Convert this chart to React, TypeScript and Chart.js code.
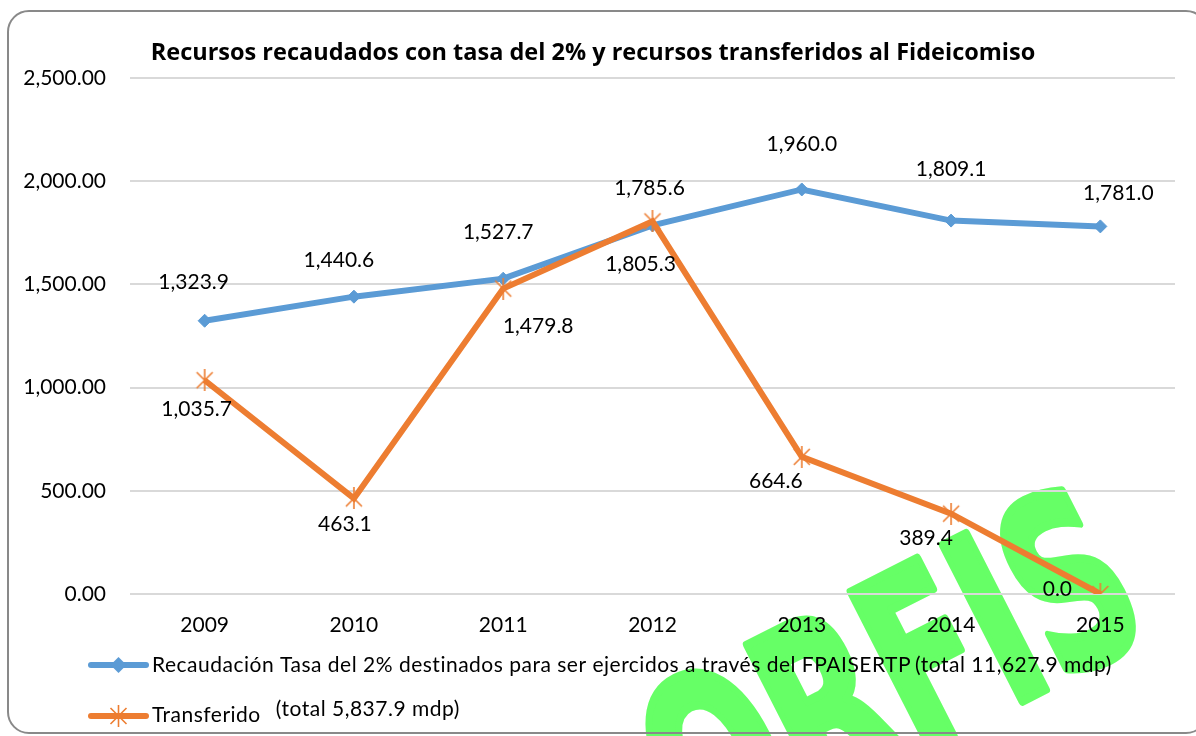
import { useEffect, useRef } from 'react';
import { Chart, registerables } from 'chart.js';

Chart.register(...registerables);

// ---- data ----
const years = ['2009', '2010', '2011', '2012', '2013', '2014', '2015'];
const recaudacion = [1323.9, 1440.6, 1527.7, 1785.6, 1960.0, 1809.1, 1781.0];
const transferido = [1035.7, 463.1, 1479.8, 1805.3, 664.6, 389.4, 0.0];
const yTickValues = [0, 500, 1000, 1500, 2000, 2500];
const seriesNames = [
  'Recaudación Tasa del 2% destinados para ser ejercidos a través del FPAISERTP',
  'Transferido',
];
const seriesTotals = ['(total 11,627.9 mdp)', '(total 5,837.9 mdp)'];
const titleText = 'Recursos recaudados con tasa del 2% y recursos transferidos al Fideicomiso';
const watermarkText = 'ORFIS';

// label offsets (pixels from each point) as placed in the original
const blueLabelOffsets = [[-11, -39], [-15, -36], [-5, -46], [-3, -37], [0, -45], [0, -51], [18, -33]];
const orangeLabelOffsets = [[-8, 29], [-9, 26], [35, 38], [-12, 43], [-26, 24], [-25, 25], [-43, -5]];

const BLUE = '#5b9bd5';
const ORANGE = '#ed7d31';
const FONT = 'Lato';
const TEXT = '#000000';

function makeStar(color: string) {
  const c = document.createElement('canvas');
  c.width = 22;
  c.height = 22;
  const g = c.getContext('2d')!;
  g.strokeStyle = color;
  g.lineWidth = 1.6;
  g.beginPath();
  g.moveTo(3, 3); g.lineTo(19, 19);
  g.moveTo(19, 3); g.lineTo(3, 19);
  g.moveTo(11, 0); g.lineTo(11, 22);
  g.stroke();
  return c;
}

const fmt1 = (v: number) => v.toLocaleString('en-US', { minimumFractionDigits: 1, maximumFractionDigits: 1 });
const fmt2 = (v: number) => v.toLocaleString('en-US', { minimumFractionDigits: 2, maximumFractionDigits: 2 });

const customPlugin = {
  id: 'customDraw',
  beforeDraw(chart: any) {
    const ctx = chart.ctx as CanvasRenderingContext2D;
    ctx.save();
    ctx.translate(888, 672);
    ctx.rotate((-27 * Math.PI) / 180);
    ctx.scale(0.63, 1);
    ctx.font = `bold 240px "DejaVu Sans"`;
    ctx.fillStyle = '#66ff66';
    ctx.strokeStyle = '#66ff66';
    ctx.lineWidth = 9;
    ctx.lineJoin = 'round';
    ctx.textAlign = 'center';
    ctx.textBaseline = 'alphabetic';
    ctx.fillText(watermarkText, 0, 87);
    ctx.strokeText(watermarkText, 0, 87);
    ctx.restore();
  },
  afterDatasetsDraw(chart: any) {
    const ctx = chart.ctx as CanvasRenderingContext2D;
    ctx.save();
    ctx.font = `21px ${FONT}`;
    ctx.fillStyle = TEXT;
    ctx.textAlign = 'center';
    ctx.textBaseline = 'middle';
    const sets = [
      { idx: 0, vals: recaudacion, offs: blueLabelOffsets },
      { idx: 1, vals: transferido, offs: orangeLabelOffsets },
    ];
    sets.forEach((s) => {
      const meta = chart.getDatasetMeta(s.idx);
      meta.data.forEach((el: any, j: number) => {
        const [dx, dy] = s.offs[j];
        ctx.fillText(fmt1(s.vals[j]), el.x + dx, el.y + dy);
      });
    });
    ctx.restore();
  },
  afterDraw(chart: any) {
    const ctx = chart.ctx as CanvasRenderingContext2D;
    ctx.save();
    // title
    ctx.font = `bold 23.5px "Open Sans"`;
    ctx.fillStyle = TEXT;
    ctx.textAlign = 'center';
    ctx.textBaseline = 'alphabetic';
    ctx.fillText(titleText, 593, 60);

    // legend
    const rows = [
      { y: 665, base: 672, color: BLUE, kind: 'diamond', gap: 4, totalBase: 672 },
      { y: 716, base: 722, color: ORANGE, kind: 'star', gap: 15, totalBase: 716 },
    ];
    rows.forEach((r, i) => {
      ctx.strokeStyle = r.color;
      ctx.lineWidth = 6;
      ctx.lineCap = 'round';
      ctx.beginPath();
      ctx.moveTo(91, r.y);
      ctx.lineTo(146, r.y);
      ctx.stroke();
      const cx = 118.5;
      if (r.kind === 'diamond') {
        ctx.fillStyle = r.color;
        ctx.beginPath();
        ctx.moveTo(cx - 8, r.y);
        ctx.lineTo(cx, r.y - 8);
        ctx.lineTo(cx + 8, r.y);
        ctx.lineTo(cx, r.y + 8);
        ctx.closePath();
        ctx.fill();
      } else {
        ctx.lineWidth = 1.6;
        ctx.lineCap = 'butt';
        ctx.beginPath();
        ctx.moveTo(cx - 8, r.y - 8); ctx.lineTo(cx + 8, r.y + 8);
        ctx.moveTo(cx + 8, r.y - 8); ctx.lineTo(cx - 8, r.y + 8);
        ctx.moveTo(cx, r.y - 11); ctx.lineTo(cx, r.y + 11);
        ctx.stroke();
      }
      ctx.font = `21px ${FONT}`;
      (ctx as any).letterSpacing = '0.5px';
      ctx.fillStyle = TEXT;
      ctx.textAlign = 'left';
      ctx.fillText(seriesNames[i], 152, r.base);
      const w = ctx.measureText(seriesNames[i]).width;
      ctx.fillText(seriesTotals[i], 152 + w + r.gap, r.totalBase);
      (ctx as any).letterSpacing = '0px';
    });
    ctx.restore();
  },
};

export default function App() {
  const canvasRef = useRef<HTMLCanvasElement | null>(null);

  useEffect(() => {
    document.body.style.margin = '0';
    const canvas = canvasRef.current!;
    const star = makeStar(ORANGE);
    const chart = new Chart(canvas, {
      type: 'line',
      data: {
        labels: years,
        datasets: [
          {
            label: seriesNames[0],
            data: recaudacion,
            borderColor: BLUE,
            backgroundColor: BLUE,
            borderWidth: 6,
            pointStyle: 'rectRot',
            pointRadius: 6.5,
            pointBorderWidth: 1,
            pointBackgroundColor: BLUE,
            pointBorderColor: BLUE,
            tension: 0,
            order: 1,
          },
          {
            label: seriesNames[1],
            data: transferido,
            borderColor: ORANGE,
            backgroundColor: ORANGE,
            borderWidth: 6,
            pointStyle: star as any,
            pointRadius: 10,
            tension: 0,
            order: 0,
          },
        ],
      },
      options: {
        responsive: false,
        animation: false,
        devicePixelRatio: 1,
        events: [],
        layout: { padding: { left: 0, top: 78, right: 21, bottom: 0 } },
        plugins: {
          legend: { display: false },
          title: { display: false },
          tooltip: { enabled: false },
        },
        scales: {
          x: {
            offset: true,
            grid: { display: false, drawTicks: false },
            border: { display: false },
            ticks: { color: TEXT, font: { family: FONT, size: 21 }, padding: 19 },
            afterFit: (s: any) => { s.height = 142; },
          },
          y: {
            min: yTickValues[0],
            max: yTickValues[yTickValues.length - 1],
            afterBuildTicks: (s: any) => { s.ticks = yTickValues.map((v) => ({ value: v })); },
            grid: { color: '#d9d9d9', lineWidth: 2, drawTicks: false },
            border: { display: false },
            ticks: {
              color: TEXT,
              font: { family: FONT, size: 21 },
              padding: 24,
              callback: (v: any) => fmt2(Number(v)),
            },
            afterFit: (s: any) => { s.width = 130; },
          },
        },
      },
      plugins: [customPlugin],
    });
    return () => chart.destroy();
  }, []);

  return (
    <div style={{ position: 'fixed', left: 0, top: 0, width: 1196, height: 736, overflow: 'hidden', background: '#fff' }}>
      <canvas ref={canvasRef} width={1196} height={736} style={{ position: 'absolute', left: 0, top: 0 }} />
      <div
        style={{
          position: 'absolute',
          left: 7,
          top: 10,
          width: 1201,
          height: 724,
          boxSizing: 'border-box',
          border: '2px solid #898989',
          borderRadius: 22,
          pointerEvents: 'none',
        }}
      />
    </div>
  );
}
